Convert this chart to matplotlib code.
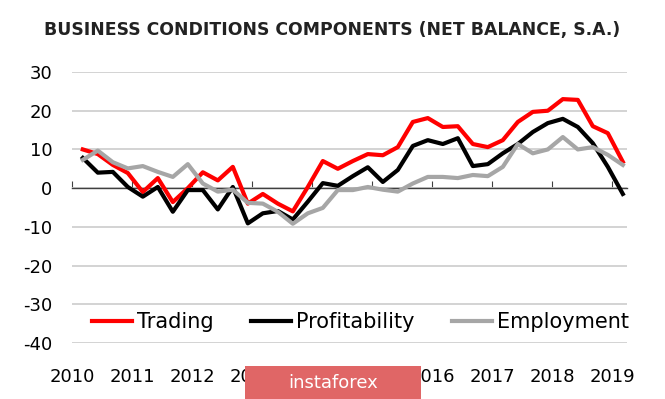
import matplotlib
matplotlib.use("Agg")
import matplotlib.pyplot as plt
from matplotlib.patches import Rectangle

# quarterly net balances, 2010 Q1 .. 2019 Q1
first_quarter = 2010.18
trading = [10, 8.8, 6, 3.9, -1, 2.6, -3.6, 0, 4.1, 2, 5.5, -4, -1.5, -4, -6, 0.3, 7, 5,
           7, 8.8, 8.5, 10.6, 17.1, 18.1, 15.8, 16, 11.4, 10.6, 12.4, 17.1, 19.7, 20,
           23, 22.8, 16, 14.2, 6.8]
profitability = [7.8, 4, 4.2, 0.3, -2.2, 0.3, -6.1, -0.5, -0.5, -5.5, 0.3, -9.1, -6.5,
                 -5.9, -8.1, -3.5, 1.3, 0.6, 3.1, 5.4, 1.6, 4.7, 10.9, 12.4, 11.4, 12.9,
                 5.7, 6.2, 9, 11.4, 14.5, 16.8, 17.9, 15.8, 11.6, 5.5, -1.5]
employment = [7.3, 9.7, 6.7, 5.1, 5.7, 4.2, 2.9, 6.2, 1.2, -0.9, -0.4, -3.8, -4, -6.1,
              -9.2, -6.5, -5.1, -0.5, -0.5, 0.3, -0.4, -0.9, 1.2, 2.9, 2.9, 2.6, 3.4,
              3.1, 5.5, 11.4, 9, 10, 13.2, 10, 10.6, 8.6, 6]
years = list(range(2010, 2020))
y_ticks = [30, 20, 10, 0, -10, -20, -30, -40]

x = [first_quarter + 0.25 * i for i in range(len(trading))]

fig = plt.figure(figsize=(6.65, 3.99), dpi=100)
ax = fig.add_axes([0.1083, 0.1404, 0.8346, 0.6791])

ax.plot(x, trading, color="#ff0000", lw=3, label="Trading", zorder=3)
ax.plot(x, profitability, color="#000000", lw=3, label="Profitability", zorder=3)
ax.plot(x, employment, color="#a6a6a6", lw=3, label="Employment", zorder=3)

ax.set_xlim(2010, 2019.25)
ax.set_ylim(-40, 30)
ax.set_yticks(y_ticks)
ax.set_yticklabels([str(v) for v in y_ticks])
ax.yaxis.grid(True, color="#d0d0d0", lw=1.3)
ax.set_axisbelow(True)
ax.tick_params(axis="y", length=0, pad=14, labelsize=13)

for side in ["left", "right", "top"]:
    ax.spines[side].set_visible(False)
ax.spines["bottom"].set_position(("data", 0))
ax.spines["bottom"].set_color("#404040")
ax.spines["bottom"].set_linewidth(1)
ax.set_xticks(years)
ax.tick_params(axis="x", direction="in", length=5, color="#404040", labelbottom=False)

sec = ax.secondary_xaxis("bottom")
sec.set_xticks(years)
sec.set_xticklabels([str(y) for y in years])
sec.tick_params(length=0, pad=18, labelsize=13)
sec.spines["bottom"].set_visible(False)

ax.legend(loc="center", bbox_to_anchor=(0.52, 0.078), ncol=3, frameon=False,
          fontsize=15, handlelength=1.9, handletextpad=0.25, columnspacing=1.8,
          borderpad=0, borderaxespad=0)

fig.text(0.5, 1 - 30 / 399, "BUSINESS CONDITIONS COMPONENTS (NET BALANCE, S.A.)",
         ha="center", va="center", fontsize=12.4, fontweight="bold", color="#222222")

# watermark
fig.patches.append(Rectangle((245 / 665, 0), 176 / 665, 33 / 399, transform=fig.transFigure,
                             facecolor="#e06666", edgecolor="none", zorder=5))
fig.text(333 / 665, 16 / 399, "instaforex", ha="center", va="center", fontsize=13,
         color="white", zorder=6)

fig.savefig("out.png", dpi=100)
